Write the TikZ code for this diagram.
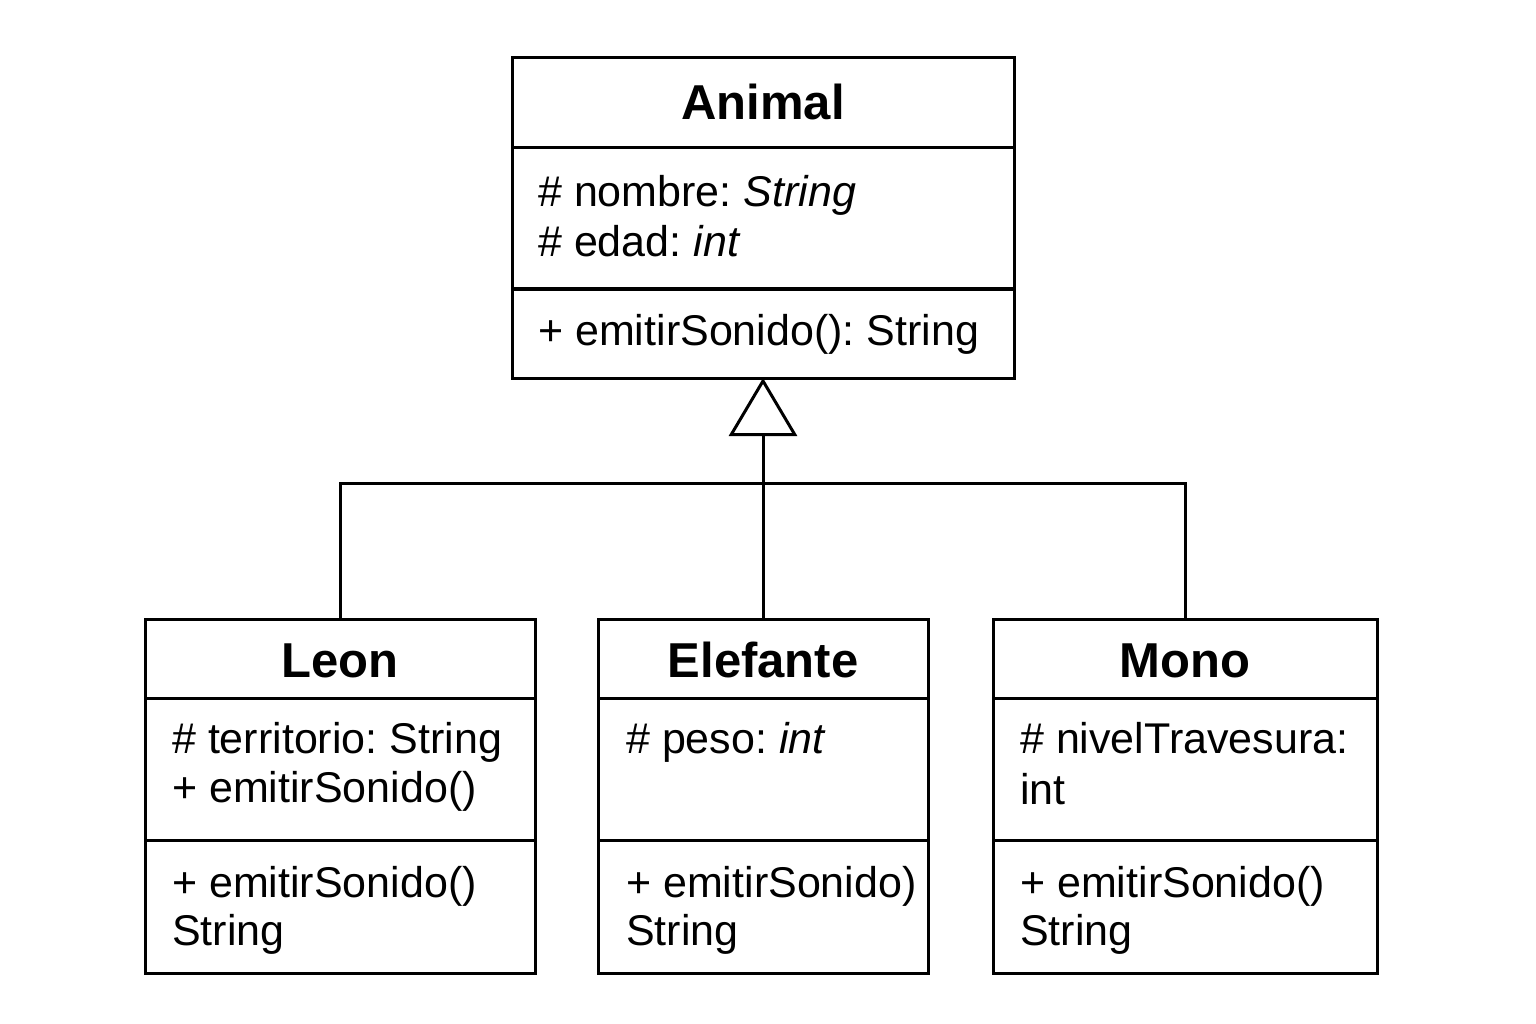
\documentclass[tikz,border=0pt]{standalone}
\usepackage{fontspec}
\setmainfont{Liberation Sans}
\usetikzlibrary{arrows.meta}
\frenchspacing
\begin{document}
\begin{tikzpicture}[x=1pt,y=-1pt,
 box/.style={draw, line width=3pt, rectangle, inner sep=0pt, outer sep=0pt, anchor=north west},
 divider/.style={line width=3pt},
 title/.style={font=\fontsize{49}{55}\selectfont\bfseries, anchor=base, inner sep=0pt},
 member/.style={font=\fontsize{43}{50}\selectfont\frenchspacing, anchor=base west, inner sep=0pt},
 conn/.style={line width=3pt}]
\useasboundingbox (0,0) rectangle (1536,1024);
\fill[white] (0,0) rectangle (1536,1024);

% Animal
\node[box, minimum width=502pt, minimum height=320pt] (animal) at (512,58) {};
\draw[divider] (512,148) -- (1014,148);
\draw[divider] (512,289) -- (1014,289);
\node[title] (animalT) at (763,120) {Animal};
\node[member] (a1) at (538,207) {\# nombre: \textit{String}};
\node[member] (a2) at (538,257) {\# edad: \textit{int}};
\node[member] (a3) at (538,345) {+ emitirSonido(): String};

% Leon
\node[box, minimum width=390pt, minimum height=354pt] (leon) at (145,619) {};
\draw[divider] (145,698) -- (535,698);
\draw[divider] (145,840) -- (535,840);
\node[title] (leonT) at (340,677) {Leon};
\node[member] (l1) at (172,753) {\# territorio: String};
\node[member] (l2) at (172,802) {+ emitirSonido()};
\node[member] (l3) at (172,897) {+ emitirSonido()};
\node[member] (l4) at (172,945) {String};

% Elefante
\node[box, minimum width=330pt, minimum height=354pt] (ele) at (598,619) {};
\draw[divider] (598,698) -- (928,698);
\draw[divider] (598,840) -- (928,840);
\node[title] (eleT) at (763,677) {Elefante};
\node[member] (e1) at (626,753) {\# peso: \textit{int}};
\node[member] (e2) at (626,897) {+ emitirSonido)};
\node[member] (e3) at (626,945) {String};

% Mono
\node[box, minimum width=384pt, minimum height=354pt] (mono) at (993,619) {};
\draw[divider] (993,698) -- (1377,698);
\draw[divider] (993,840) -- (1377,840);
\node[title] (monoT) at (1185,677) {Mono};
\node[member] (m1) at (1020,753) {\# nivelTravesura:};
\node[member] (m2) at (1020,804) {int};
\node[member] (m3) at (1020,897) {+ emitirSonido()};
\node[member] (m4) at (1020,945) {String};

% Connectors
\coordinate (j) at (763,483);
\draw[conn] (leon.north) |- (j) -| (mono.north);
\draw[conn, -{Triangle[open, length=58pt, width=68pt, line width=3pt]}] (ele.north) -- (animal.south);
\end{tikzpicture}
\end{document}
